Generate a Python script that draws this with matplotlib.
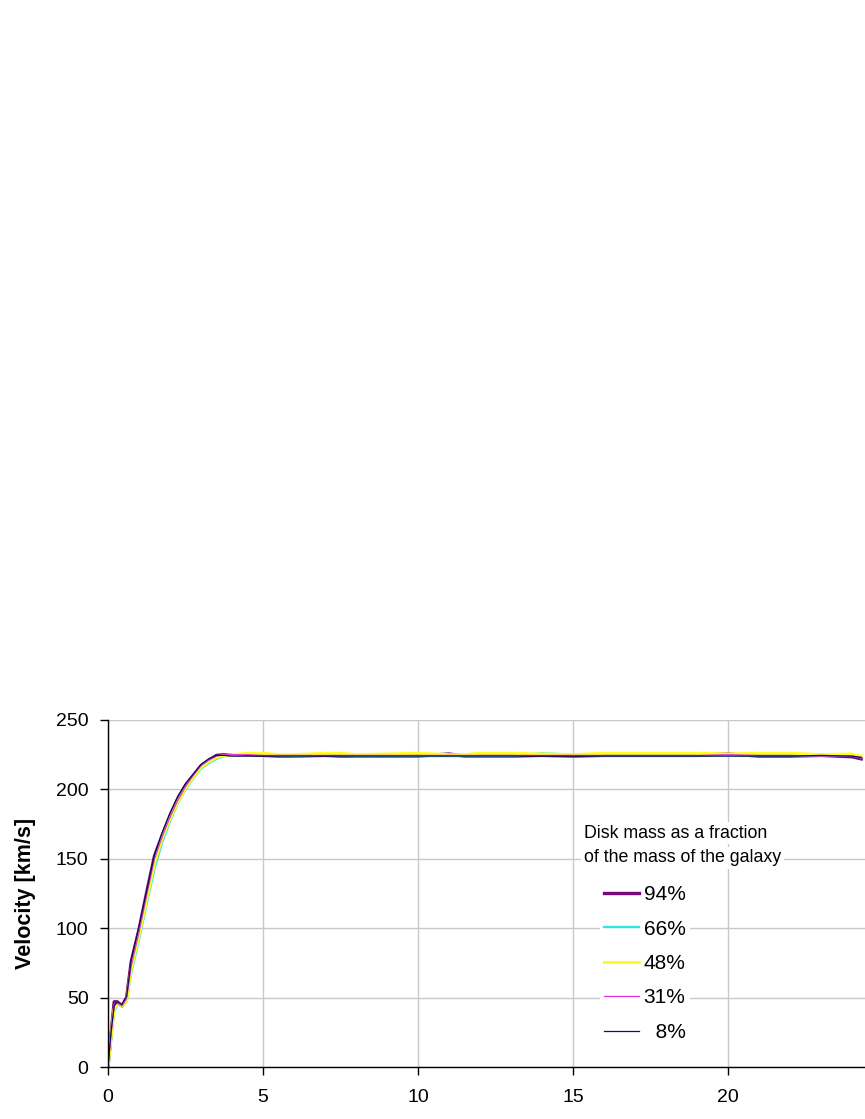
import matplotlib
matplotlib.use("Agg")
import matplotlib.pyplot as plt

plt.rcParams["font.family"] = ["Liberation Sans", "DejaVu Sans"]

# radius [kpc] shared by all series
radius = [0, 0.1, 0.2, 0.3, 0.45, 0.6, 0.75, 1.0, 1.25, 1.5, 1.75, 2.0, 2.25, 2.5,
          2.75, 3.0, 3.25, 3.5, 3.75, 4.0, 4.5, 5, 5.5, 6, 7, 7.5, 8, 9, 10, 11,
          11.5, 12, 13, 14, 15, 16, 17, 18, 19, 20, 21, 22, 23, 24, 24.3]

v94 = [0, 24, 47, 47, 44, 50, 76, 99, 126, 152, 167, 181, 193, 203,
       210, 217, 221, 224.5, 225, 225, 225, 224.5, 224, 224, 224.5, 224, 224, 224, 224, 225.5,
       224, 224, 224, 224.5, 224, 224.5, 224.5, 224.5, 224.5, 225.5, 224, 224, 224.5, 223.5, 222]
v66 = [0, 20, 40, 45, 44, 47, 68, 92, 118, 143, 162, 177, 190, 200,
       208, 215, 219, 222, 224, 225, 225.5, 225, 224.5, 224, 225, 224.5, 224, 224, 224, 224,
       224, 224, 224, 226, 225, 224.5, 224.5, 224.5, 224.5, 224.5, 224.5, 224.5, 224.5, 224.5, 223]
v48 = [0, 22, 42, 46, 44, 48, 71, 95, 121, 147, 165, 179, 191, 201,
       209, 216, 220, 223, 224.5, 225, 226, 226, 225, 225, 226, 226, 225, 225.5, 226, 225,
       225, 226, 226, 225.5, 225, 226, 226, 226, 226, 225.5, 226, 226, 225, 225.5, 224]
v31 = [0, 23, 45, 46, 44, 49, 73, 97, 124, 150, 166, 180, 192, 202,
       210, 217, 221, 224, 225, 225, 225, 224.5, 224.5, 224.5, 224.5, 224.5, 224.5, 224.5, 224.5, 224.5,
       224.5, 224.5, 224.5, 224.5, 224.5, 224.5, 224.5, 224.5, 224.5, 225, 224.5, 224.5, 224, 224, 223]
v8 = [0, 26, 44, 47, 45, 51, 77, 101, 127, 153, 169, 183, 195, 204,
      211, 218, 222, 224.5, 224.5, 224, 224, 224, 224, 224, 224, 224, 224, 224, 224, 224,
      224, 224, 224, 224, 224, 224, 224, 224, 224, 224, 224, 224, 224.5, 224, 223]

labels = ["94%", "66%", "48%", "31%", "\u20078%"]
series = [v94, v66, v48, v31, v8]
colors = ["#7a0a7a", "#33e6e6", "#ffff1a", "#e033e0", "#10105e"]
widths = [2.4, 1.7, 2.2, 0.9, 0.9]

W, H = 865, 1119
fig = plt.figure(figsize=(W / 100, H / 100), dpi=100)
ax = fig.add_axes([108 / W, 52 / H, 775 / W, 347 / H])

for vals, lab, col, lw in zip(series, labels, colors, widths):
    ax.plot(radius, vals, color=col, lw=lw, label=lab, solid_joinstyle="round")

ax.set_xlim(0, 25)
ax.set_ylim(0, 250)
ax.set_xticks([0, 5, 10, 15, 20])
ax.set_yticks([0, 50, 100, 150, 200, 250])
ax.grid(True, color="#c8c8c8", lw=1.0)
ax.set_axisbelow(True)
for s in ["top", "right"]:
    ax.spines[s].set_visible(False)
ax.spines["left"].set_linewidth(1.0)
ax.spines["bottom"].set_linewidth(1.0)
ax.tick_params(axis="both", direction="out", length=6, width=1.0, labelsize=14, colors="black")
ax.tick_params(axis="y", pad=8)
ax.tick_params(axis="x", pad=10)
ax.set_ylabel("Velocity [km/s]", fontsize=15.5, fontweight="bold", labelpad=12)
ax.yaxis.set_label_coords(-72 / 775, 0.5)

fig.text(584 / W, 1 - 833 / H, "Disk mass as a fraction", fontsize=12.8, va="center", ha="left",
         bbox=dict(facecolor="white", edgecolor="none", pad=2))
fig.text(584 / W, 1 - 858 / H, "of the mass of the galaxy", fontsize=12.8, va="center", ha="left",
         bbox=dict(facecolor="white", edgecolor="none", pad=2))

leg = ax.legend(loc="upper left", bbox_to_anchor=(600 / W, 1 - 881 / H), bbox_transform=fig.transFigure,
                fontsize=15, frameon=True, handlelength=1.65, handletextpad=0.25,
                labelspacing=0.74, borderpad=0.2, borderaxespad=0)
leg.get_frame().set_facecolor("white")
leg.get_frame().set_edgecolor("none")
leg.get_frame().set_alpha(1)

fig.savefig("out.png", dpi=100)
